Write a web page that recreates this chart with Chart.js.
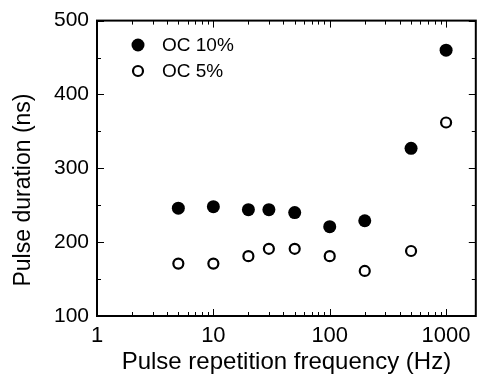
<!DOCTYPE html>
<html>
<head>
<meta charset="utf-8">
<script src="https://cdn.jsdelivr.net/npm/chart.js@4.4.1/dist/chart.umd.min.js"></script>
<style>
  html, body { margin: 0; padding: 0; background: #fff; }
  canvas { display: block; }
</style>
</head>
<body>
<canvas id="chart" width="483" height="377"></canvas>
<script>
const frequencies = [5, 10, 20, 30, 50, 100, 200, 500, 1000];
const oc10 = [246, 248, 244, 244, 240, 221, 229, 327, 460];
const oc5 = [171, 171, 181, 191, 191, 181, 161, 188, 362];
const xTickLabels = [1, 10, 100, 1000];
const yTickLabels = [100, 200, 300, 400, 500];

const FONT = "'Liberation Sans', Arial, sans-serif";

function toPoints(values) {
  return frequencies.map((f, i) => ({ x: f, y: values[i] }));
}

function drawMarker(ctx, ds, x, y) {
  ctx.beginPath();
  ctx.arc(x, y, ds.pointRadius, 0, Math.PI * 2);
  ctx.fillStyle = ds.backgroundColor;
  ctx.fill();
  if (ds.borderWidth) {
    ctx.lineWidth = ds.borderWidth;
    ctx.strokeStyle = ds.borderColor;
    ctx.stroke();
  }
}

// inward ticks on all four sides, box frame, y title and legend
const framePlugin = {
  id: "frame",
  afterDraw(chart) {
    const { ctx, chartArea: a, scales } = chart;
    ctx.save();
    ctx.strokeStyle = "#000";
    ctx.lineWidth = 1;

    scales.x.ticks.forEach((t) => {
      const px = Math.round(scales.x.getPixelForValue(t.value)) + 0.5;
      const len = xTickLabels.includes(t.value) ? 7 : 4;
      ctx.beginPath();
      ctx.moveTo(px, a.bottom);
      ctx.lineTo(px, a.bottom - len);
      ctx.moveTo(px, a.top);
      ctx.lineTo(px, a.top + len);
      ctx.stroke();
    });

    scales.y.ticks.forEach((t) => {
      const py = Math.round(scales.y.getPixelForValue(t.value)) + 0.5;
      const len = yTickLabels.includes(t.value) ? 7 : 4;
      ctx.beginPath();
      ctx.moveTo(a.left, py);
      ctx.lineTo(a.left + len, py);
      ctx.moveTo(a.right, py);
      ctx.lineTo(a.right - len, py);
      ctx.stroke();
    });

    // box
    ctx.lineWidth = 2;
    ctx.strokeRect(a.left, a.top, a.right - a.left, a.bottom - a.top);

    // y title
    ctx.save();
    ctx.translate(24, 190);
    ctx.rotate(-Math.PI / 2);
    ctx.fillStyle = "#000";
    ctx.font = "23px " + FONT;
    ctx.textAlign = "center";
    ctx.textBaseline = "middle";
    ctx.fillText("Pulse duration (ns)", 0, 0);
    ctx.restore();

    // legend
    ctx.font = "19px " + FONT;
    ctx.textAlign = "left";
    ctx.textBaseline = "middle";
    chart.data.datasets.forEach((ds, i) => {
      const y = 45 + i * 26;
      drawMarker(ctx, ds, 138, y);
      ctx.fillStyle = "#000";
      ctx.fillText(ds.label, 162, y + 1);
    });
    ctx.restore();
  },
};

const ctx = document.getElementById("chart").getContext("2d");
new Chart(ctx, {
  type: "scatter",
  data: {
    datasets: [
      {
        label: "OC 10%",
        data: toPoints(oc10),
        pointRadius: 6.5,
        backgroundColor: "#000",
        borderColor: "#000",
        borderWidth: 0,
      },
      {
        label: "OC 5%",
        data: toPoints(oc5),
        pointRadius: 5,
        backgroundColor: "#fff",
        borderColor: "#000",
        borderWidth: 2.2,
      },
    ],
  },
  options: {
    responsive: false,
    animation: false,
    layout: { padding: { top: 16, right: 2, left: 0, bottom: 0 } },
    plugins: {
      legend: { display: false },
      tooltip: { enabled: false },
    },
    scales: {
      x: {
        type: "logarithmic",
        min: 1,
        max: 1800,
        afterBuildTicks: (scale) => {
          const vals = [];
          xTickLabels.forEach((d) => {
            for (let m = 1; m < 10; m++) {
              const v = d * m;
              if (v >= scale.min && v <= scale.max) vals.push({ value: v });
            }
          });
          scale.ticks = vals;
        },
        afterFit: (scale) => {
          scale.height = 61;
        },
        grid: { display: false, drawTicks: false },
        border: { display: false },
        ticks: {
          autoSkip: false,
          maxRotation: 0,
          padding: 7,
          color: "#000",
          font: { family: FONT, size: 22 },
          callback: (v) => (xTickLabels.includes(v) ? String(v) : ""),
        },
        title: {
          display: true,
          text: "Pulse repetition frequency (Hz)",
          color: "#000",
          font: { family: FONT, size: 24 },
          padding: 0,
        },
      },
      y: {
        min: 100,
        max: 500,
        afterFit: (scale) => {
          scale.width = 97;
        },
        grid: { display: false, drawTicks: false },
        border: { display: false },
        ticks: {
          stepSize: 50,
          padding: 8,
          color: "#000",
          font: { family: FONT, size: 21 },
          callback: (v) => (yTickLabels.includes(v) ? String(v) : ""),
        },
      },
    },
  },
  plugins: [framePlugin],
});
</script>
</body>
</html>
